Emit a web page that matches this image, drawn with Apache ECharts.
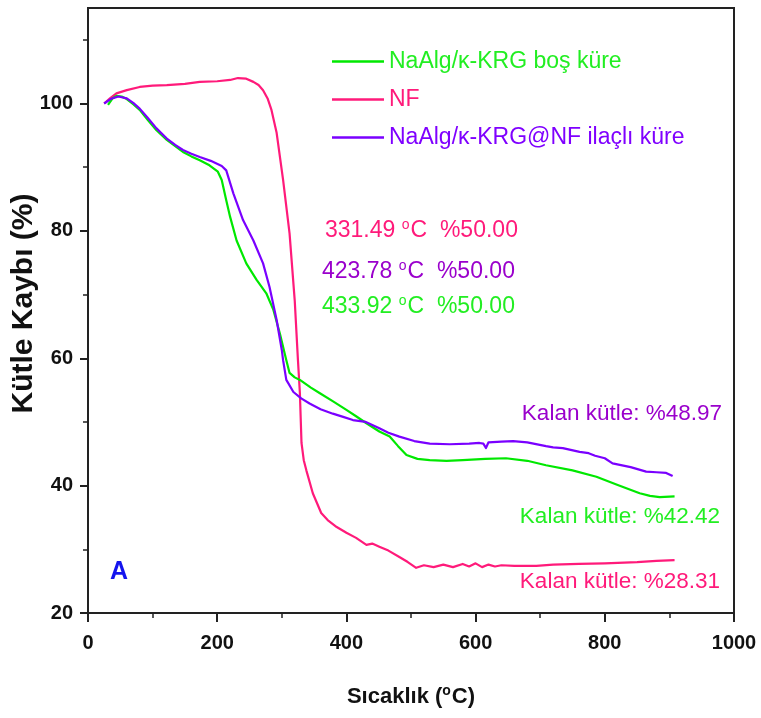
<!DOCTYPE html>
<html>
<head>
<meta charset="utf-8">
<script src="https://cdn.jsdelivr.net/npm/echarts@6/dist/echarts.min.js"></script>
<style>
html,body{margin:0;padding:0;background:#fff;}
#chart{width:761px;height:718px;}
</style>
</head>
<body>
<div id="chart"></div>
<script>
// ---- data ----
var seriesNames = ['NaAlg/\u03BA-KRG boş küre', 'NF', 'NaAlg/\u03BA-KRG@NF ilaçlı küre'];

var tempGreen = [31, 38, 44, 52, 60, 70, 80, 92, 106, 122, 135, 147, 160, 173, 188, 201, 207, 214, 220, 230, 245, 261, 276, 287, 297, 307, 312, 320, 328, 345, 359, 380, 400, 415, 431, 451, 467, 480, 493, 510, 529, 555, 580, 615, 647, 680, 709, 750, 787, 820, 854, 870, 885, 908];
var massGreen = [99.8, 100.8, 101.2, 101.1, 100.7, 99.9, 99.0, 97.5, 95.8, 94.3, 93.3, 92.4, 91.7, 91.1, 90.3, 89.3, 88.0, 84.8, 82.2, 78.5, 74.9, 72.3, 70.2, 67.6, 63.9, 59.7, 57.7, 57.0, 56.6, 55.4, 54.5, 53.2, 51.9, 50.9, 49.8, 48.5, 47.7, 46.2, 44.8, 44.2, 44.0, 43.9, 44.0, 44.2, 44.3, 43.9, 43.2, 42.4, 41.4, 40.1, 38.8, 38.4, 38.2, 38.3];

var tempNF = [25, 34, 44, 60, 80, 100, 122, 150, 173, 200, 220, 232, 245, 256, 264, 271, 278, 284, 292, 302, 312, 320, 325, 328, 330.5, 334, 338, 348, 361, 371, 385, 400, 415, 431, 440, 451, 465, 482, 495, 508, 520, 535, 550, 565, 580, 590, 600, 610, 620, 630, 640, 660, 694, 720, 760, 800, 850, 880, 908];
var massNF = [100, 100.8, 101.6, 102.1, 102.6, 102.8, 102.9, 103.1, 103.4, 103.5, 103.7, 104.0, 103.9, 103.4, 102.9, 102.1, 100.8, 99.0, 95.4, 88.0, 79.6, 69.1, 59.7, 54.5, 46.7, 44.0, 42.4, 38.8, 35.7, 34.6, 33.5, 32.6, 31.8, 30.7, 30.9, 30.4, 29.8, 28.8, 28.0, 27.1, 27.5, 27.2, 27.6, 27.2, 27.7, 27.3, 27.8, 27.2, 27.6, 27.3, 27.5, 27.4, 27.4, 27.6, 27.7, 27.8, 28.0, 28.2, 28.3];

var tempDrug = [25, 35, 47, 60, 70, 80, 92, 106, 122, 135, 147, 160, 173, 190, 207, 214, 225, 240, 256, 271, 281, 292, 300, 302, 307, 318, 330, 343, 360, 379, 395, 410, 430, 451, 465, 482, 505, 529, 560, 590, 606, 612, 616, 620, 640, 658, 680, 709, 720, 735, 761, 775, 785, 800, 812, 840, 864, 880, 895, 905];
var massDrug = [100, 100.7, 101.1, 100.8, 100.1, 99.2, 97.8, 96.1, 94.5, 93.5, 92.7, 92.1, 91.6, 91.0, 90.2, 89.5, 85.9, 81.7, 78.5, 74.9, 71.2, 66.0, 61.3, 59.7, 56.6, 54.7, 53.7, 52.9, 52.0, 51.3, 50.8, 50.3, 50.0, 49.0, 48.3, 47.7, 47.0, 46.6, 46.5, 46.6, 46.7, 46.6, 45.9, 46.8, 46.9, 47.0, 46.8, 46.2, 46.0, 45.9, 45.3, 45.1, 44.7, 44.3, 43.5, 42.9, 42.2, 42.1, 42.0, 41.5];

var xTicks = [0, 200, 400, 600, 800, 1000];
var yTicks = [20, 40, 60, 80, 100];
var yMinorTicks = [30, 50, 70, 90, 110];

var halfLossLabels = [
  {t: '331.49 ', rest: 'C  %50.00'},
  {t: '423.78 ', rest: 'C  %50.00'},
  {t: '433.92 ', rest: 'C  %50.00'}
];
var residueLabels = ['Kalan kütle: %48.97', 'Kalan kütle: %42.42', 'Kalan kütle: %28.31'];

// ---- styling ----
var cGreenLine = '#00e800', cGreenText = '#22ee22';
var cPink = '#ff1a7a';
var cPurpleLine = '#7a00ff', cPurpleLegend = '#7f00ff', cPurpleText = '#9a00cc';
var axisColor = '#222';
var FONT = 'Liberation Sans, Arial, sans-serif';

function pairs(xs, ys) { return xs.map(function (x, i) { return [x, ys[i]]; }); }

var chart = echarts.init(document.getElementById('chart'), null, {renderer: 'canvas'});

function supText(main, rest, color, size) {
  return {
    text: '{n|' + main + '}{s|o}{n|' + rest + '}',
    fill: color,
    rich: {
      n: {fontSize: size, fontFamily: FONT, fill: color, lineHeight: size},
      s: {fontSize: Math.round(size * 0.62), fontFamily: FONT, fill: color, padding: [0, 1, 12, 0], lineHeight: 14}
    }
  };
}

var annoColors = [cPink, cPurpleText, cGreenText];
var annoPos = [[325, 231], [322, 272], [322, 307]];
var residueColors = [cPurpleText, cGreenText, cPink];
var residuePos = [[722, 414], [720, 517], [720, 582]];

var graphics = [];
halfLossLabels.forEach(function (a, i) {
  var st = supText(a.t, a.rest, annoColors[i], 23);
  st.align = 'left'; st.verticalAlign = 'middle';
  graphics.push({type: 'text', x: annoPos[i][0], y: annoPos[i][1], style: st, z: 10});
});
residueLabels.forEach(function (t, i) {
  graphics.push({type: 'text', x: residuePos[i][0], y: residuePos[i][1], z: 10,
    style: {text: t, fill: residueColors[i], font: '22.5px "Liberation Sans", Arial, sans-serif', align: 'right', verticalAlign: 'middle'}});
});
graphics.push({type: 'text', x: 119, y: 572, z: 10,
  style: {text: 'A', fill: '#1414ee', font: 'bold 25px "Liberation Sans", Arial, sans-serif', align: 'center', verticalAlign: 'middle'}});

var option = {
  animation: false,
  backgroundColor: '#fff',
  grid: {left: 88, right: 27, top: 8, bottom: 105, show: true, borderColor: axisColor, borderWidth: 2, backgroundColor: 'transparent', containLabel: false, outerBoundsMode: 'none'},
  legend: {
    orient: 'vertical', left: 327, top: 45, itemWidth: 52, itemHeight: 2.5, itemGap: 15, icon: 'rect',
    textStyle: {fontSize: 23, fontFamily: FONT, lineHeight: 23},
    data: [
      {name: seriesNames[0], textStyle: {color: cGreenText}},
      {name: seriesNames[1], textStyle: {color: cPink}},
      {name: seriesNames[2], textStyle: {color: cPurpleLegend}}
    ]
  },
  xAxis: {
    type: 'value', min: 0, max: 1000, interval: 200,
    name: '{a|Sıcaklık (}{s|o}{a|C)}', nameLocation: 'middle', nameGap: 72, nameMoveOverlap: false,
    nameTextStyle: {
      rich: {
        a: {fontSize: 22, fontWeight: 'bold', color: '#111', fontFamily: FONT, lineHeight: 24},
        s: {fontSize: 14, fontWeight: 'bold', color: '#111', fontFamily: FONT, padding: [0, 1, 11, 0], lineHeight: 14}
      }
    },
    axisLine: {show: true, onZero: false, lineStyle: {color: axisColor, width: 2}},
    axisTick: {show: true, length: 9, lineStyle: {color: axisColor, width: 2}},
    minorTick: {show: true, splitNumber: 2, length: 5, lineStyle: {color: axisColor, width: 1.5}},
    axisLabel: {fontSize: 20, fontWeight: 'bold', color: '#111', margin: 20, fontFamily: FONT, formatter: function (v) { return String(v); }},
    splitLine: {show: false}, minorSplitLine: {show: false}
  },
  yAxis: [{
    type: 'value', min: 20, max: 115,
    name: 'Kütle Kaybı (%)', nameLocation: 'middle', nameGap: 49, nameRotate: 90, nameMoveOverlap: false,
    nameTextStyle: {fontSize: 30, fontWeight: 'bold', color: '#111', fontFamily: FONT, padding: [0, 0, 0, 14]},
    axisLine: {show: true, onZero: false, lineStyle: {color: axisColor, width: 2}},
    axisTick: {show: true, length: 8, customValues: yTicks, lineStyle: {color: axisColor, width: 2}},
    axisLabel: {fontSize: 20, fontWeight: 'bold', color: '#111', margin: 15, customValues: yTicks, fontFamily: FONT},
    splitLine: {show: false}
  }, {
    type: 'value', min: 20, max: 115, position: 'left', offset: 0,
    axisLine: {show: false},
    axisTick: {show: true, length: 5, customValues: yMinorTicks, lineStyle: {color: axisColor, width: 1.5}},
    axisLabel: {show: false},
    splitLine: {show: false}
  }],
  series: [
    {name: seriesNames[0], type: 'line', showSymbol: false, symbol: 'none', data: pairs(tempGreen, massGreen), lineStyle: {color: cGreenLine, width: 2.2, join: 'round'}, itemStyle: {color: cGreenLine}, z: 3},
    {name: seriesNames[1], type: 'line', showSymbol: false, symbol: 'none', data: pairs(tempNF, massNF), lineStyle: {color: cPink, width: 2.2, join: 'round'}, itemStyle: {color: cPink}, z: 2},
    {name: seriesNames[2], type: 'line', showSymbol: false, symbol: 'none', data: pairs(tempDrug, massDrug), lineStyle: {color: cPurpleLine, width: 2.2, join: 'round'}, itemStyle: {color: cPurpleLine}, z: 4}
  ],
  graphic: graphics
};
chart.setOption(option);
</script>
</body>
</html>
